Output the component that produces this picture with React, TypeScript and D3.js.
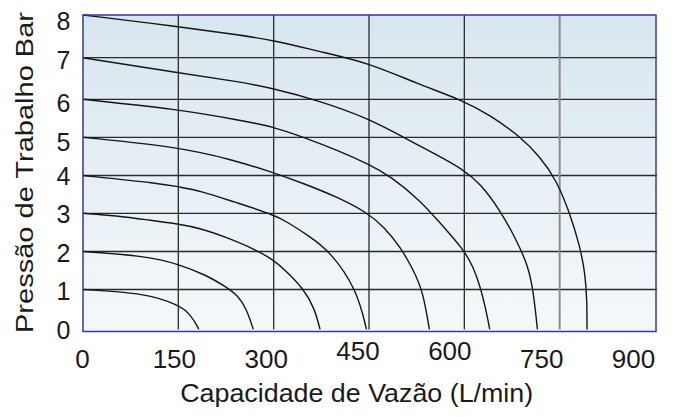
import React, { useRef, useEffect } from 'react';
import * as d3 from 'd3';

// tick values
const flowTicks = [0, 150, 300, 450, 600, 750, 900];
const pressureTicks = [0, 1, 2, 3, 4, 5, 6, 7, 8];
const raisedFlowLabels = [450, 600];

// curves: [flow L/min, pressure bar]
const curve1 = [[0, 1], [100, 0.91], [150, 0.63], [168, 0.43], [181, 0.1], [182, 0.05]];
const curve2 = [[0, 2], [100, 1.88], [150, 1.67], [194, 1.38], [226, 1.06], [244, 0.85], [257, 0.55], [268, 0.05]];
const curve3 = [[0, 3], [52, 2.94], [105, 2.82], [150, 2.72], [184, 2.61], [226, 2.37], [273, 2.04], [299, 1.78], [315, 1.56], [347, 1.03], [365, 0.53], [373, 0.05]];
const curve4 = [[0, 4], [123, 3.79], [150, 3.7], [184, 3.6], [236, 3.31], [299, 2.97], [321, 2.78], [357, 2.39], [389, 2.0], [431, 1.0], [446, 0.05]];
const curve5 = [[0, 5], [149, 4.75], [236, 4.41], [297, 4.09], [347, 3.79], [399, 3.44], [449, 3.0], [473, 2.65], [499, 2.13], [520, 1.51], [535, 0.95], [545, 0.05]];
const curve6 = [[0, 6], [149, 5.74], [247, 5.45], [299, 5.28], [347, 5.0], [399, 4.67], [449, 4.3], [483, 3.99], [530, 3.35], [567, 2.65], [598, 2.07], [614, 1.6], [625, 1.07], [633, 0.59], [640, 0.05]];
const curve7 = [[0, 7], [149, 6.64], [247, 6.42], [299, 6.26], [368, 5.98], [449, 5.5], [504, 5.0], [557, 4.54], [598, 4.16], [625, 3.79], [656, 3.09], [682, 2.3], [701, 1.6], [709, 0.91], [715, 0.05]];
const curve8 = [[0, 8], [149, 7.73], [247, 7.53], [299, 7.41], [373, 7.14], [449, 6.88], [525, 6.38], [598, 5.97], [640, 5.59], [688, 5.02], [719, 4.49], [745, 3.88], [766, 3.0], [782, 2.13], [790, 1.43], [793, 0.75], [793, 0.05]];

const curves = [curve1, curve2, curve3, curve4, curve5, curve6, curve7, curve8];

const xTitle = 'Capacidade de Vazão (L/min)';
const yTitle = 'Pressão de Trabalho Bar';

const W = 695;
const H = 417;
const font = '"Liberation Sans", Arial, Helvetica, sans-serif';

export default function App() {
  const svgRef = useRef<SVGSVGElement>(null);

  useEffect(() => {
    const svg = d3.select(svgRef.current);
    svg.selectAll('*').remove();

    const x = d3.scaleLinear().domain([0, 900]).range([83, 655]);
    // grid rows in the source are not evenly spaced
    const y = d3.scaleLinear().domain(pressureTicks)
      .range([331.5, 289.5, 251.5, 213.3, 175.5, 137.3, 99.3, 57.7, 15]);
    // tick labels sit a bit off the grid in the source
    const xLab = d3.scaleLinear().domain([0, 900]).range([82.5, 633.5]);
    const yLab = d3.scaleLinear().domain(pressureTicks)
      .range([329.7, 291, 252.5, 214, 176, 141.7, 103.3, 59.5, 21.3]);

    const [x0, x1] = x.range();
    const yTop = y(8);
    const yBot = y(0);

    const defs = svg.append('defs');
    const grad = defs.append('linearGradient').attr('id', 'bg')
      .attr('x1', 0).attr('y1', 0).attr('x2', 0).attr('y2', 1);
    grad.append('stop').attr('offset', '0%').attr('stop-color', '#d8e6ef');
    grad.append('stop').attr('offset', '100%').attr('stop-color', '#f5f8fa');

    svg.append('rect')
      .attr('x', x0).attr('y', yTop)
      .attr('width', x1 - x0).attr('height', yBot - yTop)
      .attr('fill', 'url(#bg)');

    // horizontal grid
    svg.append('g').selectAll('line')
      .data(pressureTicks.filter(d => d > 0 && d < 8))
      .join('line')
      .attr('x1', x0).attr('x2', x1 + 2)
      .attr('y1', d => y(d)).attr('y2', d => y(d))
      .attr('stroke', '#2a2a2a').attr('stroke-width', 1.3);

    // vertical grid (the 750 line is grey in the source)
    svg.append('g').selectAll('line')
      .data(flowTicks.filter(d => d > 0 && d < 900))
      .join('line')
      .attr('x1', d => x(d)).attr('x2', d => x(d))
      .attr('y1', yTop).attr('y2', yBot - 2)
      .attr('stroke', d => (d === 750 ? '#8c8c8c' : '#2a2a2a'))
      .attr('stroke-width', d => (d === 750 ? 2 : 1.3));

    // B-spline smooths out the reading noise
    const line = d3.line<number[]>()
      .x(d => x(d[0]))
      .y(d => y(d[1]))
      .curve(d3.curveBasis);

    svg.append('g').selectAll('path')
      .data(curves)
      .join('path')
      .attr('d', d => line(d))
      .attr('fill', 'none')
      .attr('stroke', '#151515')
      .attr('stroke-width', 1.4);

    // frame
    svg.append('rect')
      .attr('x', x0).attr('y', yTop)
      .attr('width', x1 - x0 + 1).attr('height', yBot - yTop)
      .attr('fill', 'none')
      .attr('stroke', '#3636a8').attr('stroke-width', 1.5);

    // y tick labels
    svg.append('g').selectAll('text')
      .data(pressureTicks)
      .join('text')
      .attr('x', 63.5)
      .attr('y', d => yLab(d))
      .attr('dy', '0.36em')
      .attr('text-anchor', 'middle')
      .style('font-family', font)
      .style('font-size', '25px')
      .attr('fill', '#1a1a1a')
      .text(d => d);

    // x tick labels
    svg.append('g').selectAll('text')
      .data(flowTicks)
      .join('text')
      .attr('x', d => xLab(d))
      .attr('y', d => (raisedFlowLabels.includes(d) ? 360 : 367.5))
      .attr('text-anchor', 'middle')
      .style('font-family', font)
      .style('font-size', '26px')
      .attr('fill', '#1a1a1a')
      .text(d => d);

    svg.append('text')
      .attr('x', 356.7).attr('y', 401.7)
      .attr('text-anchor', 'middle')
      .attr('textLength', 353)
      .attr('lengthAdjust', 'spacingAndGlyphs')
      .style('font-family', font)
      .style('font-size', '25px')
      .attr('fill', '#1a1a1a')
      .text(xTitle);

    svg.append('text')
      .attr('transform', 'translate(33.3,172.5) rotate(-90)')
      .attr('text-anchor', 'middle')
      .attr('textLength', 321)
      .attr('lengthAdjust', 'spacingAndGlyphs')
      .style('font-family', font)
      .style('font-size', '23.5px')
      .attr('fill', '#1a1a1a')
      .text(yTitle);
  }, []);

  return (
    <svg
      ref={svgRef}
      width={W}
      height={H}
      style={{ position: 'absolute', left: 0, top: 0, background: '#fff' }}
    />
  );
}
